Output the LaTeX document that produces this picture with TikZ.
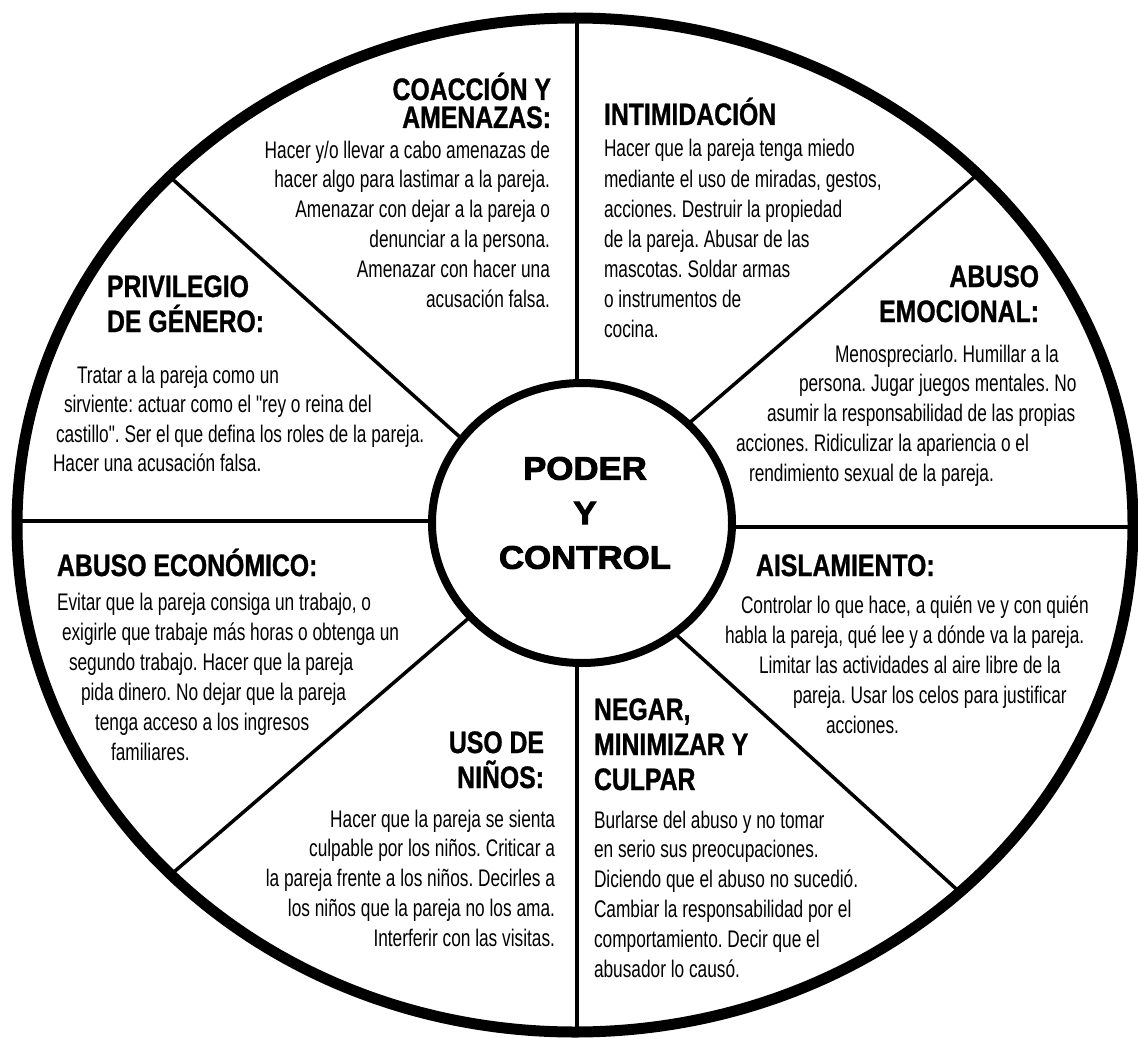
\documentclass[tikz,border=0pt]{standalone}
\usepackage{fontspec}
\setmainfont{Liberation Sans}
\newfontfamily\bodyfont{Liberation Sans}[FakeStretch=0.72]
\newfontfamily\headfont{Liberation Sans}[FakeStretch=0.80, FakeBold=1]
\newfontfamily\hubfont{Liberation Sans}[FakeStretch=1.07, FakeBold=3]
\usetikzlibrary{shapes.geometric,calc}
\frenchspacing

\begin{document}
\begin{tikzpicture}[x=1pt, y=-1pt,
		ring/.style={line width=11pt},
		spoke/.style={line width=3.5pt},
		hubring/.style={ellipse, draw, line width=8pt, fill=white, minimum width=300pt, minimum height=280pt},
		bodytxt/.style={font=\bodyfont\fontsize{24}{28}\selectfont},
		headtxt/.style={font=\headfont\bfseries\fontsize{31}{35}\selectfont},
		hubtxt/.style={font=\hubfont\bfseries\fontsize{32.5}{44.5}\selectfont, align=center}]
		\tikzstyle{every node}=[inner sep=0pt, outer sep=0pt]
		\useasboundingbox (0,0) rectangle (1138,1038);
		% wheel and hub
		\draw [ring] (575,525) ellipse [x radius=558, y radius=507];
		\node [hubring] (hub) at (582,523) {};
		\coordinate (vt) at (577,18);
		\coordinate (vb) at (577,1032);
		\coordinate (hl) at (14,521);
		\coordinate (hr) at (1136,527);
		\coordinate (ul) at (169.6,176.6);
		\coordinate (ur) at (977.8,174.1);
		\coordinate (ll) at (170.9,874.6);
		\coordinate (lr) at (959.8,892.2);
		\draw [line width=4pt] (vt) -- (vt |- hub.north);
		\draw [line width=4pt] (vb) -- (vb |- hub.south);
		\draw [spoke] (hl) -- (hl -| hub.west);
		\draw [spoke] (hr) -- (hr -| hub.east);
		\draw [spoke] (ul) -- (hub.145);
		\draw [spoke] (ur) -- (hub.43);
		\draw [spoke] (ll) -- (hub.220);
		\draw [spoke] (lr) -- (hub.310);
		\node [hubtxt] (title) at (585,513) {PODER\\Y\\CONTROL};
		% coaccion y amenazas
		\node [headtxt, anchor=base east] (coac1) at (551,100) {COACCIÓN Y};
		\node [headtxt, anchor=base east] (coac2) at (551,128) {AMENAZAS:};
		\foreach \t [count=\i] in {Hacer y/o llevar a cabo amenazas de,hacer algo para lastimar a la pareja.,Amenazar con dejar a la pareja o,denunciar a la persona.,Amenazar con hacer una,acusación falsa.}
			\node [bodytxt, anchor=base east] (coact\i) at (550,{158+29.8*(\i-1)}) {\t};
		% intimidacion
		\node [headtxt, anchor=base west] (intim) at (604,125) {INTIMIDACIÓN};
		\foreach \t [count=\i] in {Hacer que la pareja tenga miedo,{mediante el uso de miradas, gestos,},acciones. Destruir la propiedad,de la pareja. Abusar de las,mascotas. Soldar armas,o instrumentos de,cocina.}
			\node [bodytxt, anchor=base west] (intimt\i) at (604,{157+30*(\i-1)}) {\t};
		% abuso emocional
		\node [headtxt, anchor=base east] (emo1) at (1039,287) {ABUSO};
		\node [headtxt, anchor=base east] (emo2) at (1039,322) {EMOCIONAL:};
		\foreach \x/\t [count=\i] in {835/Menospreciarlo. Humillar a la,799/persona. Jugar juegos mentales. No,767/asumir la responsabilidad de las propias,736/acciones. Ridiculizar la apariencia o el,749/rendimiento sexual de la pareja.}
			\node [bodytxt, anchor=base west] (emot\i) at (\x,{362+29.8*(\i-1)}) {\t};
		% privilegio de genero
		\node [headtxt, anchor=base west] (priv1) at (107,297) {PRIVILEGIO};
		\node [headtxt, anchor=base west] (priv2) at (107,332) {DE GÉNERO:};
		\foreach \x/\t [count=\i] in {77/Tratar a la pareja como un,64/sirviente: actuar como el "rey o reina del,56/castillo". Ser el que defina los roles de la pareja.,53/Hacer una acusación falsa.}
			\node [bodytxt, anchor=base west] (privt\i) at (\x,{383+29.5*(\i-1)}) {\t};
		% abuso economico
		\node [headtxt, anchor=base west] (econ) at (57,576) {ABUSO ECONÓMICO:};
		\foreach \x/\t [count=\i] in {57/{Evitar que la pareja consiga un trabajo, o},62/exigirle que trabaje más horas o obtenga un,69/segundo trabajo. Hacer que la pareja,81/pida dinero. No dejar que la pareja,95/tenga acceso a los ingresos,111/familiares.}
			\node [bodytxt, anchor=base west] (econt\i) at (\x,{610+30*(\i-1)}) {\t};
		% aislamiento
		\node [headtxt, anchor=base west] (aisl) at (756,576) {AISLAMIENTO:};
		\foreach \x/\t [count=\i] in {741/{Controlar lo que hace, a quién ve y con quién},725/{habla la pareja, qué lee y a dónde va la pareja.},759/Limitar las actividades al aire libre de la,793/pareja. Usar los celos para justificar,826/acciones.}
			\node [bodytxt, anchor=base west] (aislt\i) at (\x,{613+30*(\i-1)}) {\t};
		% uso de ninos
		\node [headtxt, anchor=base east] (nino1) at (544,753) {USO DE};
		\node [headtxt, anchor=base east] (nino2) at (544,788) {NIÑOS:};
		\foreach \t [count=\i] in {Hacer que la pareja se sienta,culpable por los niños. Criticar a,la pareja frente a los niños. Decirles a,los niños que la pareja no los ama.,Interferir con las visitas.}
			\node [bodytxt, anchor=base east] (ninot\i) at (555,{827+29.8*(\i-1)}) {\t};
		% negar, minimizar y culpar
		\node [headtxt, anchor=base west] (neg1) at (594,720) {NEGAR,};
		\node [headtxt, anchor=base west] (neg2) at (594,755) {MINIMIZAR Y};
		\node [headtxt, anchor=base west] (neg3) at (594,790) {CULPAR};
		\foreach \t [count=\i] in {Burlarse del abuso y no tomar,en serio sus preocupaciones.,Diciendo que el abuso no sucedió.,Cambiar la responsabilidad por el,comportamiento. Decir que el,abusador lo causó.}
			\node [bodytxt, anchor=base west] (negt\i) at (594,{828+29.8*(\i-1)}) {\t};
	\end{tikzpicture}
\end{document}
